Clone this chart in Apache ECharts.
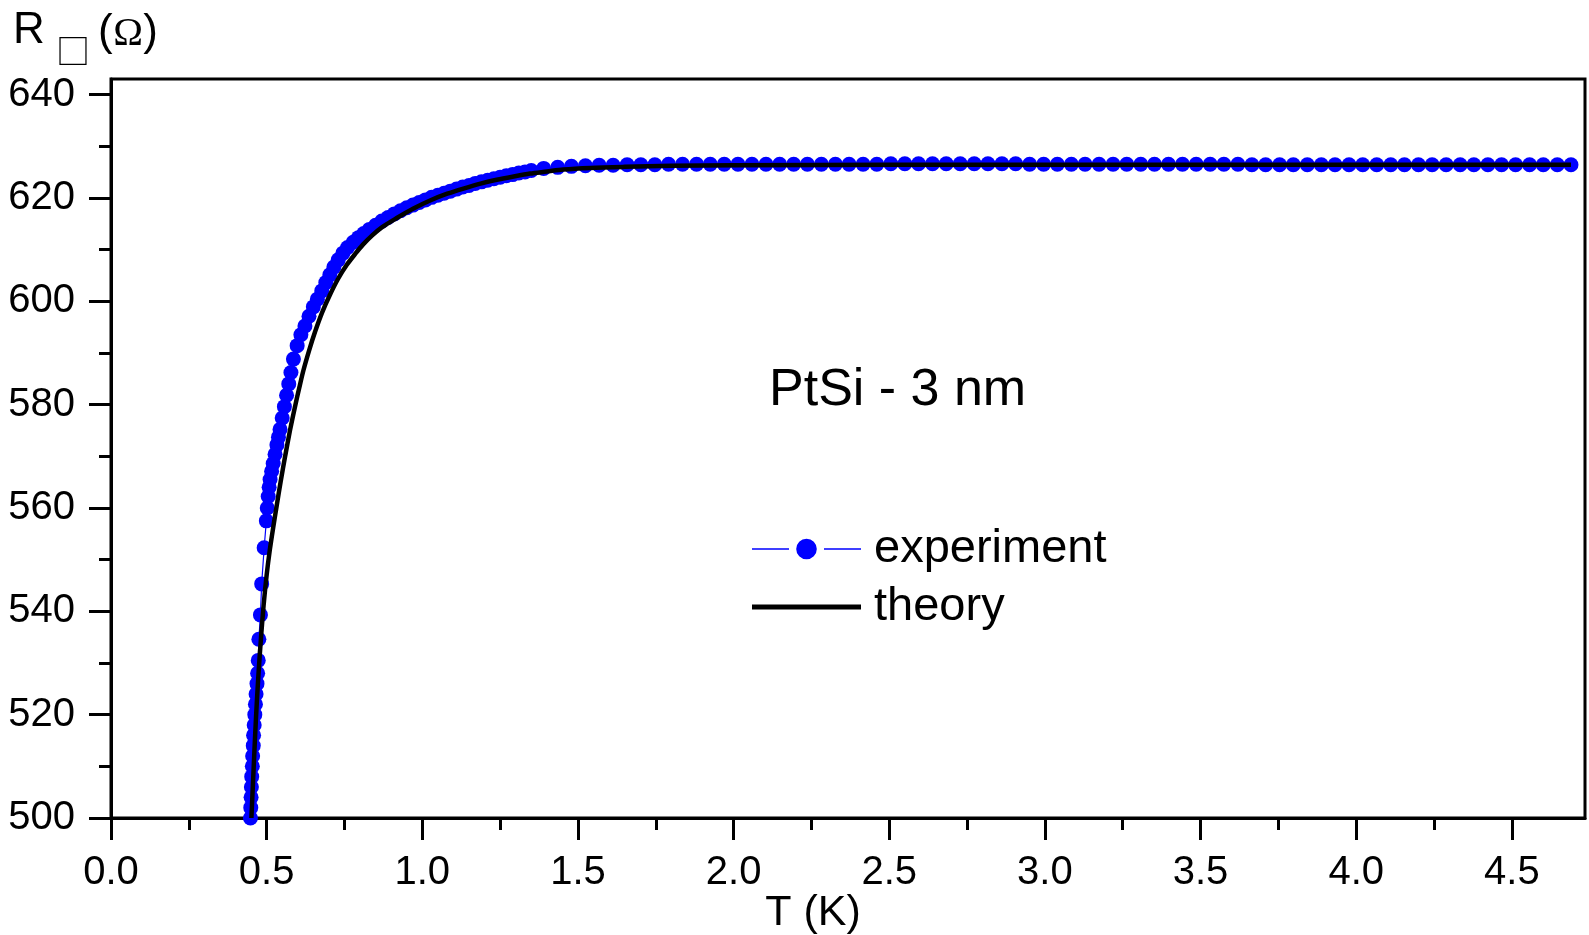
<!DOCTYPE html>
<html>
<head>
<meta charset="utf-8">
<script src="https://cdn.jsdelivr.net/npm/echarts@6/dist/echarts.min.js"></script>
<style>
html,body{margin:0;padding:0;background:#fff;}
#chart{width:1589px;height:935px;}
</style>
</head>
<body>
<div id="chart"></div>
<script>
// ---- data ----
const xMajorTicks = [0, 0.5, 1.0, 1.5, 2.0, 2.5, 3.0, 3.5, 4.0, 4.5];
const xMinorTicks = [0.25, 0.75, 1.25, 1.75, 2.25, 2.75, 3.25, 3.75, 4.25];
const yMajorTicks = [500, 520, 540, 560, 580, 600, 620, 640];
const yMinorTicks = [510, 530, 550, 570, 590, 610, 630];

// experiment (blue dots)
const expT = [
  0.447,0.448,0.449,0.450,0.451,0.452,0.454,0.455,0.457,0.458,0.460,0.462,0.464,0.466,0.469,0.471,0.473,
  0.475,0.480,0.484,0.492,
  0.499,0.502,0.505,0.508,0.511,0.516,0.521,0.527,0.533,0.538,0.543,0.550,0.557,0.564,0.571,0.578,0.586,
  0.598,0.610,0.623,0.636,0.650,0.663,0.677,0.690,0.703,0.716,0.730,0.745,0.760,0.778,0.795,0.812,
  0.830,0.850,0.870,0.890,0.910,0.930,0.950,0.970,0.990,1.010,1.030,1.050,1.070,1.090,1.110,1.130,
  1.150,1.170,1.190,1.210,1.230,1.250,1.270,1.290,1.310,1.330,1.350,
  1.390,1.435,1.479,1.524,1.568,1.613,1.658,1.702,1.747,1.791,
  1.836,1.881,1.925,1.970,2.014,2.059,2.104,2.148,2.193,2.237,
  2.282,2.327,2.371,2.416,2.460,2.505,2.550,2.594,2.639,2.683,
  2.728,2.773,2.817,2.862,2.906,2.951,2.996,3.040,3.085,3.129,
  3.174,3.219,3.263,3.308,3.352,3.397,3.442,3.486,3.531,3.575,
  3.620,3.665,3.709,3.754,3.798,3.843,3.888,3.932,3.977,4.021,
  4.066,4.111,4.155,4.200,4.244,4.289,4.334,4.378,4.423,4.467,
  4.512,4.557,4.601,4.646,4.690
];
const expR = [
  498,500,502,504,506,508,510,512,514,516,518,520,522,524,526,528,530.5,
  534.6,539.3,545.3,552.3,
  557.5,560.0,562.2,564.0,565.5,567.1,568.6,570.4,572.2,573.7,575.2,577.4,579.6,581.8,584.0,586.2,588.8,
  591.4,593.5,595.2,597.1,598.9,600.4,602.0,603.6,605.1,606.6,608.0,609.3,610.4,611.4,612.3,613.1,
  613.9,614.7,615.5,616.2,616.9,617.5,618.1,618.6,619.1,619.6,620.1,620.5,620.9,621.3,621.7,622.1,
  622.4,622.8,623.1,623.4,623.7,624.0,624.3,624.5,624.8,625.0,625.3,
  625.7,625.9,626.1,626.2,626.3,626.3,626.4,626.4,626.4,626.5,
  626.5,626.5,626.5,626.5,626.5,626.5,626.5,626.5,626.5,626.5,
  626.5,626.5,626.5,626.5,626.5,626.6,626.6,626.6,626.6,626.6,
  626.6,626.6,626.6,626.6,626.6,626.5,626.5,626.5,626.5,626.5,
  626.5,626.5,626.5,626.5,626.5,626.5,626.5,626.5,626.5,626.5,
  626.5,626.4,626.4,626.4,626.4,626.4,626.4,626.4,626.4,626.4,
  626.4,626.4,626.4,626.4,626.4,626.4,626.4,626.4,626.4,626.4,
  626.4,626.4,626.4,626.4,626.4
];

// theory (black line)
const thT = [
  0.451,0.457,0.463,0.469,0.475,0.482,0.490,0.500,0.510,0.521,0.533,0.545,0.560,0.575,0.590,0.605,
  0.618,0.637,0.655,0.678,0.703,0.730,0.757,0.785,0.810,0.840,0.870,0.918,0.970,1.025,1.080,1.132,
  1.190,1.239,1.290,1.346,1.400,1.453,1.540,1.650,1.800,2.000,2.500,3.000,3.500,4.000,4.690
];
const thR = [
  500,508,516,523,529,535,541,547,551.8,556.2,560.7,565.1,570.2,575.0,579.3,583.3,
  586.6,590.6,594.0,597.8,601.2,604.4,607.0,609.2,611.0,612.8,614.3,616.1,617.9,619.5,620.8,621.8,
  622.8,623.5,624.1,624.7,625.1,625.5,625.8,626.0,626.2,626.3,626.4,626.4,626.4,626.4,626.4
];

const seriesNames = ['experiment', 'theory'];
const annotation = 'PtSi - 3 nm';
const xAxisTitle = 'T (K)';

// ---- chart ----
const expData = expT.map((t, i) => [t, expR[i]]);
const thData = thT.map((t, i) => [t, thR[i]]);

const FONT = 'Liberation Sans, Arial, sans-serif';
const X_MIN = 0, X_MAX = 4.735, Y_MIN = 500, Y_MAX = 643;

const axisCommon = {
  type: 'value',
  splitLine: { show: false },
  axisLine: { onZero: false, lineStyle: { color: '#000', width: 3 } }
};

const chart = echarts.init(document.getElementById('chart'), null, { renderer: 'canvas' });
chart.setOption({
  animation: false,
  backgroundColor: '#fff',
  grid: { left: 111, right: 4, top: 79, bottom: 117, show: true, borderColor: '#000', borderWidth: 3, backgroundColor: 'transparent' },
  xAxis: [
    Object.assign({}, axisCommon, {
      min: X_MIN, max: X_MAX, position: 'bottom',
      axisTick: { customValues: xMajorTicks, length: 22, lineStyle: { color: '#000', width: 3 } },
      axisLabel: { customValues: xMajorTicks, formatter: v => v.toFixed(1), fontSize: 40, fontFamily: FONT, color: '#000', margin: 35 }
    }),
    Object.assign({}, axisCommon, {
      min: X_MIN, max: X_MAX, position: 'bottom',
      axisLine: { show: false, onZero: false },
      axisTick: { customValues: xMinorTicks, length: 12, lineStyle: { color: '#000', width: 3 } },
      axisLabel: { show: false }
    })
  ],
  yAxis: [
    Object.assign({}, axisCommon, {
      min: Y_MIN, max: Y_MAX, position: 'left',
      axisTick: { customValues: yMajorTicks, length: 22, lineStyle: { color: '#000', width: 3 } },
      axisLabel: { customValues: yMajorTicks, fontSize: 40, fontFamily: FONT, color: '#000', margin: 36, padding: [4, 0, 0, 0] }
    }),
    Object.assign({}, axisCommon, {
      min: Y_MIN, max: Y_MAX, position: 'left',
      axisLine: { show: false, onZero: false },
      axisTick: { customValues: yMinorTicks, length: 12, lineStyle: { color: '#000', width: 3 } },
      axisLabel: { show: false }
    })
  ],
  legend: {
    orient: 'vertical', left: 752, top: 524, padding: 0,
    itemWidth: 109, itemHeight: 25, itemGap: 8,
    selectedMode: false,
    itemStyle: { borderWidth: 0 },
    textStyle: { fontSize: 47, fontFamily: FONT, color: '#000', lineHeight: 50, padding: [0, 0, 0, 8] },
    data: [
      { name: seriesNames[0], icon: 'path://M0,9.25H37V10.75H0Z M44.2,10A10.3,10.3 0 1 0 64.8,10A10.3,10.3 0 1 0 44.2,10Z M72,9.25H109V10.75H72Z' },
      { name: seriesNames[1], icon: 'path://M0,0H100V4.5H0Z' }
    ]
  },
  series: [
    {
      name: seriesNames[0], type: 'line', xAxisIndex: 0, yAxisIndex: 0,
      data: expData, symbol: 'circle', symbolSize: 15, showSymbol: true,
      itemStyle: { color: '#0000ff', borderWidth: 0 },
      lineStyle: { color: '#0000ff', width: 1.2 },
      z: 2
    },
    {
      name: seriesNames[1], type: 'line', xAxisIndex: 0, yAxisIndex: 0,
      data: thData, symbol: 'none', smooth: 0.3,
      itemStyle: { color: '#000' },
      lineStyle: { color: '#000', width: 4.5 },
      z: 3
    }
  ],
  graphic: [
    { type: 'text', x: 13, y: 31, style: { text: 'R', fontSize: 44, fontFamily: FONT, fill: '#000', align: 'left', verticalAlign: 'middle' } },
    { type: 'text', x: 73, y: 51, style: { text: '□', fontSize: 34, fontFamily: 'Noto Sans CJK SC', fill: '#000', align: 'center', verticalAlign: 'middle' } },
    { type: 'text', x: 98, y: 33, style: { text: '(', fontSize: 44, fontFamily: FONT, fill: '#000', align: 'left', verticalAlign: 'middle' } },
    { type: 'text', x: 128, y: 34, style: { text: 'Ω', fontSize: 40, fontFamily: 'Liberation Serif, serif', fill: '#000', align: 'center', verticalAlign: 'middle' } },
    { type: 'text', x: 158, y: 33, style: { text: ')', fontSize: 44, fontFamily: FONT, fill: '#000', align: 'right', verticalAlign: 'middle' } },
    { type: 'text', x: 769, y: 391, style: { text: annotation, fontSize: 52, fontFamily: FONT, fill: '#000', align: 'left', verticalAlign: 'middle' } },
    { type: 'text', x: 813, y: 913, style: { text: xAxisTitle, fontSize: 43, fontFamily: FONT, fill: '#000', align: 'center', verticalAlign: 'middle' } }
  ]
});
</script>
</body>
</html>
